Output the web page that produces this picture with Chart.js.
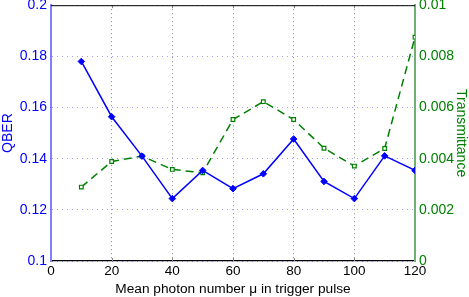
<!DOCTYPE html>
<html>
<head>
<meta charset="utf-8">
<script src="https://cdn.jsdelivr.net/npm/chart.js@4"></script>
<style>
  html, body { margin: 0; padding: 0; background: #fff; }
  #wrap { width: 469px; height: 297px; }
</style>
</head>
<body>
<div id="wrap"><canvas id="c" width="469" height="297"></canvas></div>
<script>
// data
const photonNumber = [10, 20, 30, 40, 50, 60, 70, 80, 90, 100, 110, 120]
const qber = [0.178, 0.1564, 0.141, 0.1244, 0.1354, 0.1283, 0.1341, 0.1477, 0.1311, 0.1244, 0.1411, 0.1354]
const transmittance = [0.00289, 0.00389, 0.0041, 0.00358, 0.00345, 0.00553, 0.00623, 0.00553, 0.00441, 0.00371, 0.0044, 0.00875]

const xTicks = [0, 20, 40, 60, 80, 100, 120]
const qberTicks = ['0.1', '0.12', '0.14', '0.16', '0.18', '0.2']
const transTicks = ['0', '0.002', '0.004', '0.006', '0.008', '0.01']

const FONT = 'Liberation Sans, Arial, sans-serif'

// black line along the top of the plot box, with small inward tick marks
const topBorder = {
  id: 'topBorder',
  afterDraw(chart) {
    const { ctx, chartArea } = chart
    const xs = chart.scales.x
    ctx.save()
    ctx.strokeStyle = '#888'
    ctx.lineWidth = 1
    xTicks.slice(1, -1).forEach(v => {
      const px = Math.round(xs.getPixelForValue(v)) + 0.5
      ctx.beginPath()
      ctx.moveTo(px, chartArea.top)
      ctx.lineTo(px, chartArea.top + 3)
      ctx.moveTo(px, chartArea.bottom)
      ctx.lineTo(px, chartArea.bottom - 3)
      ctx.stroke()
    })
    ctx.strokeStyle = '#000'
    ctx.beginPath()
    ctx.moveTo(chartArea.left, chartArea.top + 0.5)
    ctx.lineTo(chartArea.right, chartArea.top + 0.5)
    ctx.stroke()
    ctx.restore()
  }
}

const config = {
  type: 'line',
  data: {
    datasets: [{
      label: 'QBER',
      data: photonNumber.map((x, i) => ({ x: x, y: qber[i] })),
      yAxisID: 'y',
      borderColor: '#0000ff',
      backgroundColor: '#0000ff',
      borderWidth: 1.5,
      pointStyle: 'rectRot',
      pointRadius: 3.3,
      pointBorderWidth: 1,
      tension: 0
    }, {
      label: 'Transmittance',
      data: photonNumber.map((x, i) => ({ x: x, y: transmittance[i] })),
      yAxisID: 'y2',
      borderColor: '#008000',
      backgroundColor: '#ffffff',
      borderWidth: 1.5,
      borderDash: [8, 5],
      pointStyle: 'rect',
      pointRadius: 2.6,
      pointBorderWidth: 1.2,
      tension: 0
    }]
  },
  options: {
    responsive: false,
    animation: false,
    layout: { padding: 0 },
    plugins: { legend: { display: false }, tooltip: { enabled: false } },
    scales: {
      x: {
        type: 'linear',
        min: 0, max: 120,
        afterBuildTicks: s => { s.ticks = xTicks.map(v => ({ value: v })) },
        afterFit: s => { s.height = 36; s.paddingLeft = 0; s.paddingRight = 0 },
        grid: { color: '#888', lineWidth: 1, drawTicks: false },
        border: { color: '#000', width: 1.2, dash: [1, 3] },
        ticks: { color: '#000', font: { family: FONT, size: 13.5 }, padding: 2, maxRotation: 0 },
        title: { display: true, text: 'Mean photon number μ in trigger pulse', color: '#000', font: { family: FONT, size: 13.7 }, padding: { top: 0, bottom: 0 } }
      },
      y: {
        position: 'left',
        min: 0.1, max: 0.2,
        afterBuildTicks: s => { s.ticks = qberTicks.map(v => ({ value: +v })) },
        afterFit: s => { s.width = 51; s.paddingTop = 4; s.paddingBottom = 0 },
        grid: { color: '#a0a0ff', lineWidth: 1, drawTicks: false },
        border: { color: '#8080ff', width: 2, dash: [1, 4] },
        ticks: { color: '#0000ff', font: { family: FONT, size: 14 }, padding: 4, callback: (v, i) => qberTicks[i] },
        title: { display: true, text: 'QBER', color: '#0000ff', font: { family: FONT, size: 14 }, padding: 0 }
      },
      y2: {
        position: 'right',
        min: 0, max: 0.01,
        afterBuildTicks: s => { s.ticks = transTicks.map(v => ({ value: +v })) },
        afterFit: s => { s.width = 54; s.paddingTop = 4; s.paddingBottom = 0 },
        grid: { display: false, drawTicks: false },
        border: { color: '#70b070', width: 2 },
        ticks: { color: '#008000', font: { family: FONT, size: 14 }, padding: 4, callback: (v, i) => transTicks[i] },
        title: { display: true, text: 'Transmittance', color: '#008000', font: { family: FONT, size: 14 }, padding: 0 }
      }
    }
  },
  plugins: [topBorder]
}

const chart = new Chart(document.getElementById('c'), config)
</script>
</body>
</html>
